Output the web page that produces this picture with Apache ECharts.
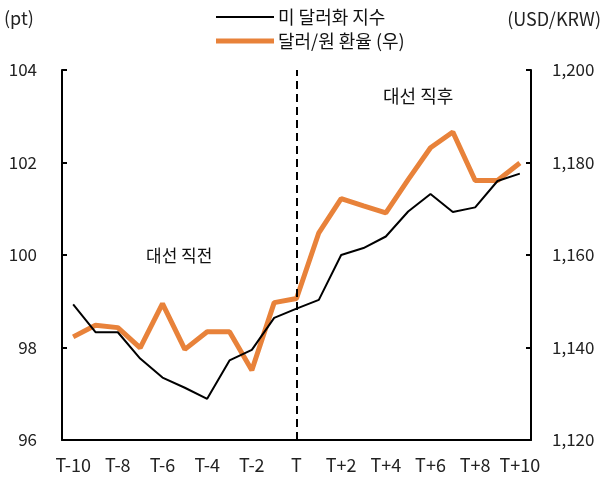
<!DOCTYPE html>
<html>
<head>
<meta charset="utf-8">
<script src="https://cdn.jsdelivr.net/npm/echarts@6/dist/echarts.min.js"></script>
<style>
html,body{margin:0;padding:0;background:#fff;}
#chart{width:603px;height:486px;}
</style>
</head>
<body>
<div id="chart"></div>
<script>
var categories = ['T-10','T-9','T-8','T-7','T-6','T-5','T-4','T-3','T-2','T-1','T','T+1','T+2','T+3','T+4','T+5','T+6','T+7','T+8','T+9','T+10'];
var dollarIndex = [98.93,98.33,98.33,97.76,97.35,97.13,96.89,97.72,97.95,98.64,98.84,99.03,100.0,100.15,100.4,100.94,101.32,100.93,101.03,101.6,101.76];
var usdKrw = [1142.3,1144.8,1144.3,1139.9,1149.5,1139.6,1143.4,1143.4,1135.1,1149.7,1150.6,1164.8,1172.2,1170.6,1169.1,1176.3,1183.2,1186.6,1176.1,1176.1,1179.9];
var seriesNames = ['미 달러화 지수','달러/원 환율 (우)'];
var leftTicks = {min:96, max:104, interval:2};
var rightTicks = {min:1120, max:1200, interval:20};

var FONT = '"Noto Sans CJK KR", "Noto Sans", sans-serif';
var ORANGE = '#E8823A';
var chart = echarts.init(document.getElementById('chart'), null, {renderer:'canvas'});
chart.setOption({
  animation:false,
  backgroundColor:'#fff',
  textStyle:{fontFamily:FONT},
  grid:{left:62, right:72, top:70, bottom:46, containLabel:false},
  legend:{
    orient:'vertical', left:211, top:3, itemGap:6, itemWidth:58, itemHeight:14,
    textStyle:{fontFamily:FONT, fontSize:18, color:'#111', padding:[0,0,0,-1]},
    data:[
      {name:seriesNames[0], icon:'path://M0,0L58,0L58,2L0,2Z', itemStyle:{color:'#000'}},
      {name:seriesNames[1], icon:'path://M0,0L58,0L58,5L0,5Z', itemStyle:{color:ORANGE}}
    ]
  },
  xAxis:{
    type:'category', data:categories, boundaryGap:true,
    axisLine:{lineStyle:{color:'#000', width:2}},
    axisTick:{inside:true, length:4, lineStyle:{color:'#000', width:1.5}},
    axisLabel:{interval:1, margin:16, fontSize:18, color:'#222', fontFamily:FONT},
    splitLine:{show:false}
  },
  yAxis:[
    {type:'value', min:leftTicks.min, max:leftTicks.max, interval:leftTicks.interval,
     axisLine:{show:true, lineStyle:{color:'#000', width:2}},
     axisTick:{show:true, inside:true, length:5, lineStyle:{color:'#000', width:2}},
     axisLabel:{margin:25, fontSize:17, color:'#222', fontFamily:FONT},
     splitLine:{show:false}},
    {type:'value', min:rightTicks.min, max:rightTicks.max, interval:rightTicks.interval, position:'right',
     axisLine:{show:true, lineStyle:{color:'#000', width:2}},
     axisTick:{show:true, inside:true, length:5, lineStyle:{color:'#000', width:2}},
     axisLabel:{margin:21, fontSize:17, color:'#222', fontFamily:FONT,
       formatter:function(v){return v.toLocaleString('en-US');}},
     splitLine:{show:false}}
  ],
  graphic:[
    {type:'text', left:4, top:9, style:{text:'(pt)', font:'18px '+FONT, fill:'#222'}},
    {type:'text', right:2, top:10, style:{text:'(USD/KRW)', font:'18px '+FONT, fill:'#222'}},
    {type:'text', left:146, top:247, style:{text:'대선 직전', font:'17px '+FONT, fill:'#111'}},
    {type:'text', left:383, top:87, style:{text:'대선 직후', font:'18px '+FONT, fill:'#111'}}
  ],
  series:[
    {name:seriesNames[0], type:'line', yAxisIndex:0, data:dollarIndex, symbol:'none', z:3,
     lineStyle:{color:'#000', width:2}, itemStyle:{color:'#000'},
     markLine:{silent:true, symbol:['none','none'], label:{show:false},
       lineStyle:{color:'#000', type:[8,5], width:2},
       data:[{xAxis:'T'}]}},
    {name:seriesNames[1], type:'line', yAxisIndex:1, data:usdKrw, symbol:'none', z:2,
     lineStyle:{color:ORANGE, width:5}, itemStyle:{color:ORANGE}}
  ]
});
</script>
</body>
</html>
